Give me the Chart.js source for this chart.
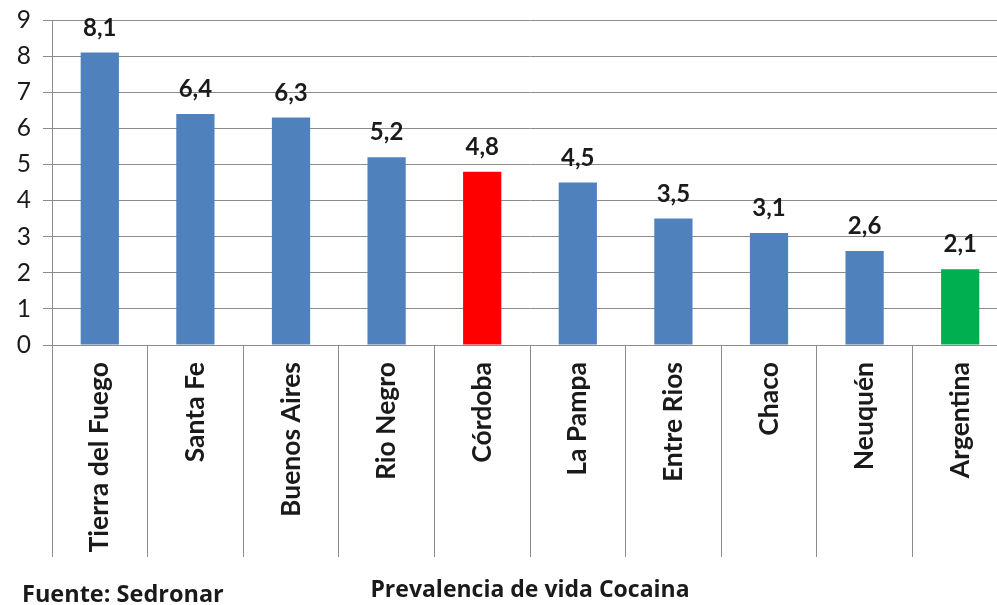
<!DOCTYPE html>
<html><head><meta charset="utf-8">
<script src="https://cdn.jsdelivr.net/npm/chart.js@4"></script>
<style>
html,body{margin:0;padding:0;background:#fff;overflow:hidden;width:997px;height:605px}
#wrap{position:absolute;left:0;top:0;width:1010px;height:605px}
#src{position:absolute;left:22px;top:580px;font:bold 23.5px "Open Sans";color:#1a1a1a;white-space:nowrap;line-height:26px}
</style></head><body>
<div id="wrap"><canvas id="c" width="1010" height="605"></canvas></div>
<div id="src">Fuente: Sedronar</div>
<script>
const categories = ["Tierra del Fuego","Santa Fe","Buenos Aires","Rio Negro","Córdoba","La Pampa","Entre Rios","Chaco","Neuquén","Argentina"];
const values = [8.1, 6.4, 6.3, 5.2, 4.8, 4.5, 3.5, 3.1, 2.6, 2.1];
const barColors = ["#4F81BD","#4F81BD","#4F81BD","#4F81BD","#FF0000","#4F81BD","#4F81BD","#4F81BD","#4F81BD","#00B050"];
const yTicks = [0,1,2,3,4,5,6,7,8,9];
const axisTitle = "Prevalencia de vida Cocaina";

const valueLabels = {
  id: 'valueLabels',
  afterDatasetsDraw(chart) {
    const ctx = chart.ctx;
    const meta = chart.getDatasetMeta(0);
    ctx.save();
    ctx.font = 'bold 24px Lato';
    ctx.fillStyle = '#1a1a1a';
    ctx.textAlign = 'center';
    ctx.textBaseline = 'alphabetic';
    meta.data.forEach((bar, i) => {
      ctx.fillText(values[i].toFixed(1).replace('.', ','), bar.x, bar.y - 17);
    });
    ctx.restore();
  }
};

new Chart(document.getElementById('c'), {
  type: 'bar',
  data: {
    labels: categories,
    datasets: [{
      data: values,
      backgroundColor: barColors,
      borderWidth: 0,
      barPercentage: 0.4,
      categoryPercentage: 1.0
    }]
  },
  options: {
    responsive: false,
    animation: false,
    devicePixelRatio: 1,
    layout: { padding: { top: 20, right: 2, bottom: 0, left: 0 } },
    plugins: { legend: { display: false }, tooltip: { enabled: false } },
    scales: {
      y: {
        min: 0, max: 9,
        afterFit(s) { s.width = 52; s.paddingTop = 0; s.paddingBottom = 0; },
        afterBuildTicks(s) { s.ticks = yTicks.map(v => ({ value: v })); },
        ticks: { font: { family: 'Lato', size: 24.5 }, color: '#1a1a1a', padding: 12 },
        grid: { color: '#8c8c8c', lineWidth: 1, tickLength: 9, drawTicks: true },
        border: { display: true, color: '#8c8c8c' }
      },
      x: {
        afterFit(s) { s.height = 260; },
        grid: { offset: true, drawOnChartArea: false, drawTicks: true, tickLength: 212, color: '#8c8c8c' },
        border: { display: true, color: '#8c8c8c' },
        ticks: { minRotation: 90, maxRotation: 90, autoSkip: false, padding: -195,
                 font: { family: 'Lato', size: 26.5, weight: 'bold' }, color: '#1a1a1a' },
        title: { display: true, text: axisTitle, font: { family: 'Open Sans', size: 23, weight: 'bold' },
                 color: '#1a1a1a', padding: { top: 0, bottom: 1 } }
      }
    }
  },
  plugins: [valueLabels]
});
</script>
</body></html>
